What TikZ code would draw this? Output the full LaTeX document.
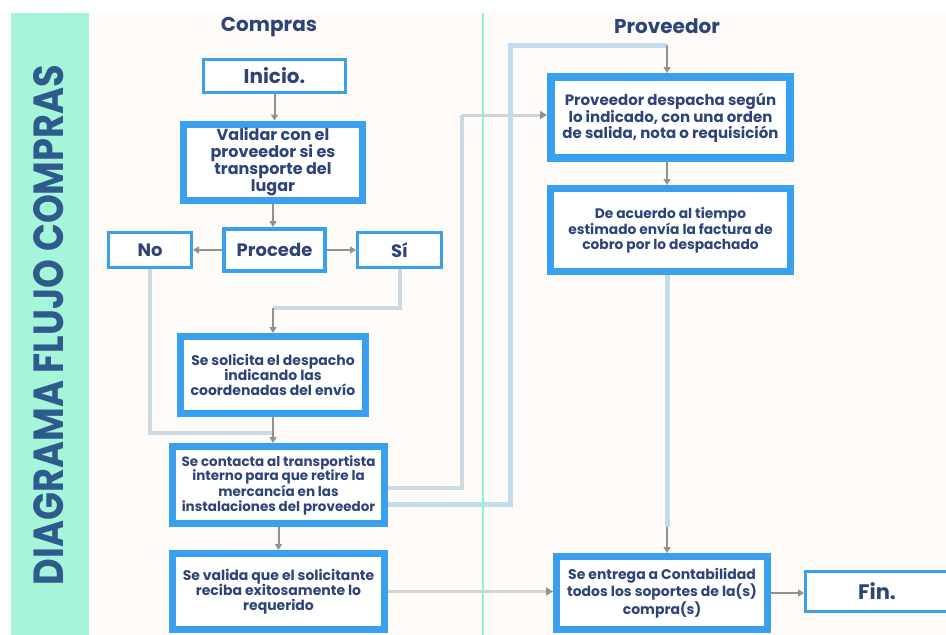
\documentclass[tikz,border=0pt]{standalone}
\usepackage{fontspec}
\usepackage{graphicx}
\setmainfont{Poppins}
\usetikzlibrary{arrows.meta}

\definecolor{band}{HTML}{A6F5DA}
\definecolor{panel}{HTML}{FFFBF8}
\definecolor{boxblue}{HTML}{38A0EE}
\definecolor{ink}{HTML}{2E4479}
\definecolor{titleblue}{HTML}{2D5B8C}
\definecolor{wireblue}{HTML}{C2DCEC}
\definecolor{wiregray}{HTML}{CBD9E0}
\definecolor{feedgray}{HTML}{CDD3D6}
\definecolor{tip}{HTML}{8D9397}
\definecolor{divider}{HTML}{8DF3D0}

\tikzset{
  box/.style={draw=boxblue, fill=white, inner sep=0pt, align=center,
              text=ink, font=\bfseries},
  thinbox/.style={box, line width=3pt},
  thickbox/.style={box, line width=7pt},
  lanetitle/.style={text=ink, font=\bfseries\fontsize{20}{23}\selectfont},
  flow/.style={draw=tip, line width=2pt, -{Triangle[length=6pt,width=7pt]}},
  feed/.style={draw=feedgray, line width=3pt,
               -{Triangle[length=7pt,width=8pt,color=tip]}},
  wire/.style={draw=wireblue, line width=5pt},
  wirepale/.style={draw=wiregray, line width=4pt},
}

\begin{document}
\begin{tikzpicture}[x=1pt,y=-1pt]
  \useasboundingbox (0,0) rectangle (946,635);

  % page, side band and lane panel
  \fill[white] (0,0) rectangle (946,635);
  \fill[panel] (89,13) rectangle (946,635);
  \fill[band] (11,13) rectangle (89,635);
  \node[rotate=90, text=titleblue, inner sep=0pt] (bandtitle) at (49,325)
    {\resizebox{520pt}{30pt}{\bfseries DIAGRAMA FLUJO COMPRAS}};

  % lane titles
  \node[lanetitle] (compras) at (269,27) {Compras};
  \node[lanetitle] (proveedor) at (667,26) {Proveedor};

  % Compras lane
  \node[thinbox, minimum width=142pt, minimum height=33pt,
        font=\bfseries\fontsize{20}{23}\selectfont] (inicio) at (274.5,76) {Inicio.};
  \node[thickbox, minimum width=179pt, minimum height=76pt,
        font=\bfseries\fontsize{16}{17}\selectfont] (validar) at (273,162)
    {Validar con el\\proveedor si es\\transporte del\\lugar};
  \node[thinbox, minimum width=83pt, minimum height=35pt,
        font=\bfseries\fontsize{18}{21}\selectfont] (no) at (150,250) {No};
  \node[box, line width=4pt, minimum width=101pt, minimum height=42pt,
        font=\bfseries\fontsize{18}{21}\selectfont] (procede) at (274.5,250) {Procede};
  \node[thinbox, minimum width=84pt, minimum height=35pt,
        font=\bfseries\fontsize{18}{21}\selectfont] (si) at (399.5,250) {Sí};
  \node[thickbox, minimum width=185pt, minimum height=77pt,
        font=\bfseries\fontsize{14}{15.3}\selectfont] (solicita) at (273,375)
    {Se solicita el despacho\\indicando las\\coordenadas del envío};
  \node[thickbox, minimum width=212pt, minimum height=77pt,
        font=\bfseries\fontsize{13.5}{14.5}\selectfont] (contacta) at (278.5,485)
    {Se contacta al transportista\\interno para que retire la\\mercancía en las\\instalaciones del proveedor};
  \node[thickbox, minimum width=212pt, minimum height=76pt,
        font=\bfseries\fontsize{14}{15}\selectfont] (valida) at (278.5,591.5)
    {Se valida que el solicitante\\reciba exitosamente lo\\requerido};

  % Proveedor lane
  \node[box, line width=8pt, minimum width=239pt, minimum height=81pt,
        font=\bfseries\fontsize{15}{16}\selectfont] (despacha) at (670.5,117.5)
    {Proveedor despacha según\\lo indicado, con una orden\\de salida, nota o requisición};
  \node[thickbox, minimum width=240pt, minimum height=83pt,
        font=\bfseries\fontsize{13.8}{15}\selectfont] (acuerdo) at (670.5,230)
    {De acuerdo al tiempo\\estimado envía la factura de\\cobro por lo despachado};
  \node[thickbox, minimum width=211pt, minimum height=73pt,
        font=\bfseries\fontsize{14}{15}\selectfont] (entrega) at (662,593)
    {Se entrega a Contabilidad\\todos los soportes de la(s)\\compra(s)};
  \node[thinbox, minimum width=148pt, minimum height=40pt,
        font=\bfseries\fontsize{21}{24}\selectfont] (fin) at (879.5,591.5)
    {\hspace*{-5pt}Fin.};

  % junction points of the long connectors
  \coordinate (sijoin) at (273,308);
  \coordinate (nojoin) at (273,433);
  \coordinate (upA) at (462,115);
  \coordinate (upB) at (510,45);
  \coordinate (topB) at (667,45);
  \coordinate (downC) at (667,527);

  % long connectors
  \draw[wirepale] (si.south) |- (sijoin);
  \draw[wirepale] (no.south) |- (nojoin);
  \draw[wirepale] ([yshift=-3pt]contacta.east) -| (upA);
  \draw[feed] (upA) -- (upA -| despacha.west);
  \draw[wire] ([yshift=-19pt]contacta.east) -| (upB) -- (topB);
  \draw[wire] (acuerdo.south -| downC) -- (downC);
  \draw[feed] (valida.east) -- (entrega.west |- valida.east);

  % lane divider
  \draw[divider, line width=2pt] (483,13) -- (483,635);

  % short arrows
  \draw[flow] (inicio.south) -- (inicio.south |- validar.north);
  \draw[flow] (validar.south) -- (validar.south |- procede.north);
  \draw[flow] (procede.west) -- (no.east);
  \draw[flow] (procede.east) -- (si.west);
  \draw[flow] (sijoin) -- (solicita.north);
  \draw[flow] (solicita.south) -- (solicita.south |- contacta.north);
  \draw[flow] (contacta.south) -- (contacta.south |- valida.north);
  \draw[flow] (topB) -- (topB |- despacha.north);
  \draw[flow] (despacha.south -| topB) -- (topB |- acuerdo.north);
  \draw[flow] (downC) -- (downC |- entrega.north);
  \draw[flow] (entrega.east) -- (entrega.east -| fin.west);
\end{tikzpicture}
\end{document}
